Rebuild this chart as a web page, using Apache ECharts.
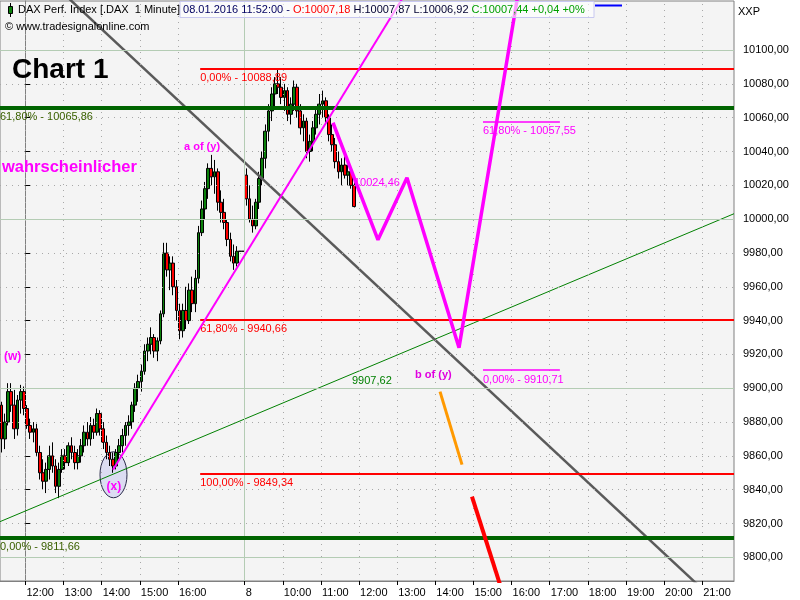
<!DOCTYPE html>
<html><head><meta charset="utf-8">
<script src="https://cdn.jsdelivr.net/npm/echarts@6/dist/echarts.min.js"></script>
<style>html,body{margin:0;padding:0;background:#fff}#c{width:800px;height:600px}</style>
</head><body><div id="c"></div>
<script>
// x unit: minutes from 12:00 on 07.01.2016; 08.01.2016 09:00 is placed at 345
const DAY2_OPEN = 345;
const SLOT = 5;
const X_MIN = -40, X_MAX = 1115;
const Y_MIN = 9786, Y_MAX = 10129;

const xTickValues = [0, 60, 120, 180, 240, 345, 405, 465, 525, 585, 645, 705, 765, 825, 885, 945, 1005, 1065];
const xTickLabels = ['12:00','13:00','14:00','15:00','16:00','8','10:00','11:00','12:00','13:00','14:00','15:00','16:00','17:00','18:00','19:00','20:00','21:00'];
const yTickValues = [9800,9820,9840,9860,9880,9900,9920,9940,9960,9980,10000,10020,10040,10060,10080,10100];
const yMajorLevels = [9800, 9900, 10000, 10100];

// 5-minute OHLC [open, close, low, high]; day 1 from 11:20
const ohlcDay1 = [
[9890,9870,9862,9892],[9870,9880,9864,9885],[9880,9898,9878,9903],[9898,9890,9886,9903],
[9890,9876,9870,9899],[9876,9893,9872,9896],[9893,9898,9885,9902],[9898,9888,9884,9901],
[9888,9878,9876,9890],[9878,9874,9870,9882],[9874,9876,9868,9880],[9876,9862,9860,9879],
[9862,9850,9846,9866],[9850,9845,9840,9858],[9845,9852,9838,9856],[9852,9860,9846,9866],
[9860,9854,9850,9868],[9854,9842,9838,9858],[9842,9852,9835,9856],[9852,9860,9850,9864],
[9860,9856,9852,9864],[9856,9866,9854,9868],[9866,9862,9858,9871],[9862,9856,9852,9866],
[9856,9860,9852,9864],[9860,9866,9856,9870],[9866,9874,9862,9878],[9874,9870,9866,9880],
[9870,9878,9866,9883],[9878,9874,9870,9882],[9874,9885,9872,9888],[9885,9876,9872,9887],
[9876,9868,9864,9880],[9868,9862,9858,9872],[9862,9858,9854,9866],[9858,9854,9850,9862],
[9854,9862,9852,9864],[9862,9866,9858,9870],[9866,9872,9862,9876],[9872,9878,9866,9880],
[9878,9880,9872,9884],[9880,9890,9876,9892],[9890,9900,9886,9903],[9900,9904,9892,9908],
[9904,9910,9898,9914],[9910,9922,9908,9926],[9922,9926,9916,9930],[9926,9930,9920,9936],
[9930,9922,9918,9932],[9922,9928,9916,9930],[9928,9944,9926,9946],[9944,9980,9942,9986],
[9980,9970,9966,9986],[9970,9974,9958,9978],[9974,9960,9955,9978],[9960,9946,9940,9964],
[9946,9934,9929,9950],[9934,9946,9930,9950],[9946,9940,9935,9960],[9940,9958,9938,9962],
[9958,9950,9945,9966],[9950,9965,9945,9970],[9965,9992,9962,9996],[9992,10006,9990,10011],
[10006,10018,10000,10022],[10018,10030,10012,10033],[10030,10025,10020,10038],[10025,10028,10015,10035],
[10028,10010,10005,10030],[10010,10004,9998,10017],[10004,9998,9994,10012],[9998,9988,9984,10000],
[9988,9978,9975,9992],[9978,9974,9970,9985],[9974,9981,9972,9984],[9981,9981,9981,9981],
[9981,9981,9981,9981]
];
// day 2 from 09:00
const ohlcDay2 = [
[10026,10012,10008,10030],[10012,10000,9998,10020],[10000,9996,9992,10008],[9996,10010,9994,10012],
[10010,10024,10006,10028],[10024,10036,10020,10040],[10036,10052,10030,10056],[10052,10064,10046,10068],
[10064,10074,10058,10078],[10074,10080,10066,10084],[10080,10078,10074,10089],[10078,10072,10068,10084],
[10072,10076,10064,10080],[10076,10062,10058,10078],[10062,10068,10056,10072],[10068,10078,10064,10082],
[10078,10064,10060,10080],[10064,10054,10050,10068],[10054,10058,10046,10062],[10058,10040,10036,10060],
[10040,10046,10034,10050],[10046,10054,10040,10058],[10054,10062,10050,10066],[10062,10068,10056,10074],
[10068,10070,10060,10076],[10070,10060,10056,10072],[10060,10050,10046,10062],[10050,10044,10040,10056],
[10044,10034,10030,10048],[10034,10028,10024,10040],[10028,10032,10020,10036],[10032,10026,10024,10040],
[10026,10028,10020,10032],[10028,10020,10018,10030],[10020,10007.44,10006.92,10022]
];

// retracement levels
const fibRedLevels = [10088.89, 9940.66, 9849.34];
const fibRedPct = ['0,00%', '61,80%', '100,00%'];
const fibRedRange = [275, X_MAX];
const fibGreenLevels = [10065.86, 9811.66];
const fibGreenPct = ['61,80%', '0,00%'];
const fibGreenRange = [X_MIN, X_MAX];
const fibMagentaLevels = [10057.55, 9910.71];
const fibMagentaPct = ['61,80%', '0,00%'];
const fibMagentaRange = [720, 841];

// drawn lines [minute, price]
const grayTrend = [[60, 10133.4], [1115, 9763.8]];
const greenTrend = [[-40, 9821.1], [1115, 10003.2]];
const magentaTrend = [[137.8, 9851.8], [600, 10134.7]];
const zigzag = [[484, 10057.0], [554.8, 9987.8], [600.4, 10024.5], [682.3, 9924.0], [780, 10144]];
const orangeLeg = [[652.4, 9898.0], [687.0, 9854.8]];
const redLeg = [[702.7, 9835.9], [746.8, 9783.9]];
const xLow = [138.6, 9850];

const FONT = 'Liberation Sans, Arial, sans-serif';
const fmt = v => v.toFixed(2).replace('.', ',');

const chart = echarts.init(document.getElementById('c'), null, {renderer: 'canvas', width: 800, height: 600});

const nSlots = (X_MAX - X_MIN) / SLOT;
const day2Slot = (DAY2_OPEN - X_MIN) / SLOT;
const categories = [], candleData = [];
for (let k = 0; k < nSlots; k++) {
  categories.push('s' + k);
  if (k < ohlcDay1.length) candleData.push(ohlcDay1[k]);
  else if (k >= day2Slot && k - day2Slot < ohlcDay2.length) candleData.push(ohlcDay2[k - day2Slot]);
  else candleData.push('-');
}

const dotted = {color: '#a8a8a8', width: 1, type: [1, 5]};
const solid = {color: '#b4ccb4', width: 1, type: 'solid'};

function fibSeries(levels, pcts, range, color, width, labelColor, z) {
  return levels.map((lv, i) => ({
    type: 'line', xAxisIndex: 1, yAxisIndex: 0, data: [], z: z, silent: true,
    markLine: {
      silent: true, symbol: ['none', 'none'], animation: false,
      lineStyle: {color: color, width: width, type: 'solid'},
      label: {show: true, position: 'insideStartBottom', formatter: pcts[i] + ' - ' + fmt(lv),
              color: labelColor, fontSize: 11, fontFamily: FONT, distance: [0, 4]},
      emphasis: {disabled: true},
      data: [[{coord: [range[0], lv]}, {coord: [range[1], lv]}]]
    }
  }));
}
function lineSeries(pts, color, width, z) {
  return {type: 'line', xAxisIndex: 1, yAxisIndex: 0, data: pts, showSymbol: false, symbol: 'none',
          clip: true, silent: true, z: z, lineStyle: {color: color, width: width}};
}

const labelMap = {};
xTickValues.forEach((v, i) => labelMap[v] = xTickLabels[i]);

chart.setOption({
  animation: false,
  backgroundColor: '#ffffff',
  textStyle: {fontFamily: FONT},
  grid: {left: 0, right: 66, top: 1, bottom: 19, show: true, backgroundColor: '#f4f4f4',
         borderColor: '#808080', borderWidth: 1},
  xAxis: [
    {type: 'category', data: categories, boundaryGap: true, show: false},
    {type: 'value', min: X_MIN, max: X_MAX, position: 'bottom',
     axisLine: {show: true, lineStyle: {color: '#808080'}},
     axisTick: {show: true, customValues: xTickValues, length: 4, lineStyle: {color: '#000'}},
     axisLabel: {customValues: xTickValues, formatter: v => labelMap[v] || '', align: 'left',
                 margin: 6, color: '#000', fontSize: 11, fontFamily: FONT, padding: [0, 0, 0, 1]},
     splitLine: {show: false}}
  ],
  yAxis: {type: 'value', position: 'right', min: Y_MIN, max: Y_MAX,
     axisLine: {show: true, lineStyle: {color: '#808080'}},
     axisTick: {show: true, customValues: yTickValues, length: 5, lineStyle: {color: '#000'}},
     axisLabel: {customValues: yTickValues, formatter: v => fmt(v), color: '#000', fontSize: 11,
                 fontFamily: FONT, margin: 9},
     splitLine: {show: false}},
  series: [
    {type: 'line', xAxisIndex: 1, yAxisIndex: 0, data: [], z: 1, silent: true,
     markLine: {silent: true, symbol: ['none', 'none'], label: {show: false}, animation: false,
       emphasis: {disabled: true},
       data: [
         ...xTickValues.map(v => ({xAxis: v, lineStyle: v === DAY2_OPEN ? solid : dotted})),
         ...yTickValues.map(v => ({yAxis: v, lineStyle: yMajorLevels.includes(v) ? solid : dotted}))
       ]}},
    ...fibSeries(fibGreenLevels, fibGreenPct, fibGreenRange, '#006400', 4, '#3a6000', 2),
    ...fibSeries(fibRedLevels, fibRedPct, fibRedRange, '#ff0000', 2, '#ff0000', 2),
    ...fibSeries(fibMagentaLevels, fibMagentaPct, fibMagentaRange, '#ff00ff', 1.5, '#ff00ff', 2),
    {type: 'candlestick', xAxisIndex: 0, yAxisIndex: 0, data: candleData, z: 3, barWidth: 3.2, silent: true,
     itemStyle: {color: '#0a800a', color0: '#ff0000', borderColor: '#000000', borderColor0: '#000000', borderWidth: 1}},
    lineSeries(greenTrend, '#008000', 1, 4),
    lineSeries(grayTrend, '#5a5a5a', 2.5, 4),
    lineSeries(magentaTrend, '#ff00ff', 2, 5),
    lineSeries(zigzag, '#ff00ff', 3.5, 5),
    lineSeries(orangeLeg, '#ff9900', 3, 5),
    lineSeries(redLeg, '#ff0000', 4, 5)
  ]
});

const ex = chart.convertToPixel({xAxisIndex: 1}, xLow[0]);
const ey = chart.convertToPixel({yAxisIndex: 0}, xLow[1]);

function txt(x, y, s, color, size, bold, z) {
  return {type: 'text', x: x, y: y, z: z || 50,
          style: {text: s, fill: color, font: (bold ? 'bold ' : '') + size + 'px ' + FONT, textVerticalAlign: 'middle'}};
}

chart.setOption({
  graphic: [
    {type: 'ellipse', z: 2, shape: {cx: ex, cy: ey + 2, rx: 13.5, ry: 23},
     style: {fill: '#dcdcf2', stroke: '#2a2a4a', lineWidth: 1}},
    txt(12, 70, 'Chart 1', '#000', 28, true),
    txt(2, 167, 'wahrscheinlicher', '#ff00ff', 16.5, true),
    txt(184, 147, 'a of (y)', '#ff00ff', 11, true),
    txt(4, 357, '(w)', '#ff00ff', 12, true),
    txt(ex - 7, ey + 14, '(x)', '#ff00ff', 12, true),
    txt(415, 375, 'b of (y)', '#e000e0', 11, true),
    txt(352, 381, '9907,62', '#008000', 11, false),
    txt(354, 183, '10024,46', '#ff00ff', 11, false, 4),
    // header
    {type: 'rect', z: 90, shape: {x: 180, y: 1.5, width: 414, height: 16},
     style: {fill: 'rgba(255,255,255,0.6)', stroke: '#c8c8f0', lineWidth: 1}},
    {type: 'line', z: 91, shape: {x1: 10.5, y1: 3, x2: 10.5, y2: 17}, style: {stroke: '#000', lineWidth: 1}},
    {type: 'rect', z: 92, shape: {x: 8.5, y: 6.5, width: 4, height: 7}, style: {fill: '#0a800a', stroke: '#000', lineWidth: 1}},
    {type: 'text', x: 18, y: 10, z: 95,
     style: {text: '{k|DAX Perf. Index [.DAX  1 Minute]} {d|08.01.2016 11:52:00 - }{o|O:10007,18} {n|H:10007,87} {n|L:10006,92} {c|C:10007,44 +0,04 +0%}',
             font: '11px ' + FONT, textVerticalAlign: 'middle',
             rich: {k: {fill: '#000', font: '11px ' + FONT}, d: {fill: '#000060', font: '11px ' + FONT},
                    o: {fill: '#ff0000', font: '11px ' + FONT}, n: {fill: '#000030', font: '11px ' + FONT},
                    c: {fill: '#00a000', font: '11px ' + FONT}}}},
    {type: 'line', z: 95, shape: {x1: 595, y1: 5.5, x2: 622, y2: 5.5}, style: {stroke: '#0000ff', lineWidth: 2}},
    txt(5, 27, '\u00a9 www.tradesignalonline.com', '#000', 11, false, 95),
    txt(738, 12, 'XXP', '#000', 11, false, 95)
  ]
});
</script>
</body></html>
